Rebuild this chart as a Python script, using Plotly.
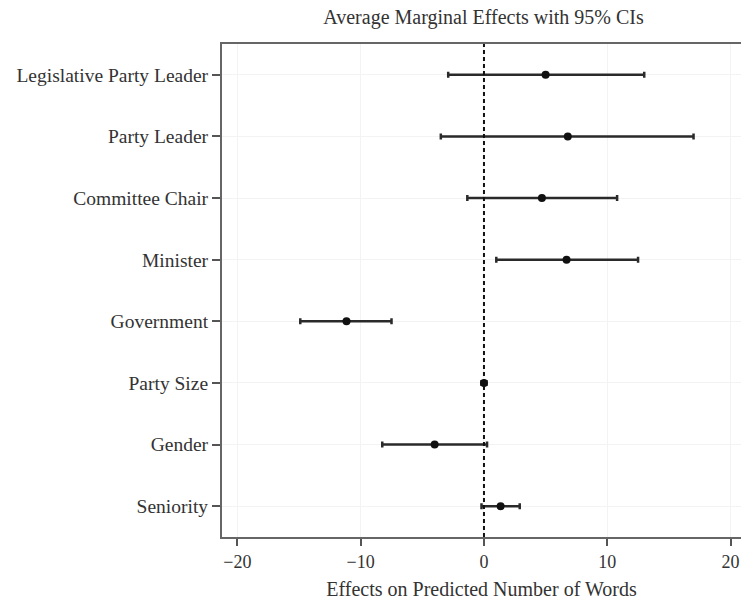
import plotly.graph_objects as go

# Average marginal effects with 95% confidence intervals
variables = ["Legislative Party Leader", "Party Leader", "Committee Chair", "Minister",
             "Government", "Party Size", "Gender", "Seniority"]
effects = [5.0, 6.8, 4.7, 6.7, -11.15, 0.0, -4.0, 1.35]
ci_low = [-2.9, -3.5, -1.35, 1.0, -14.9, -0.2, -8.25, -0.2]
ci_high = [13.0, 17.0, 10.8, 12.5, -7.5, 0.2, 0.25, 2.9]

x_ticks = [-20, -10, 0, 10, 20]

rows = list(range(len(variables)))
err_plus = [h - e for h, e in zip(ci_high, effects)]
err_minus = [e - l for e, l in zip(effects, ci_low)]

FONT = "Liberation Serif"
INK = "#333333"

fig = go.Figure()
fig.add_trace(go.Scatter(
    x=effects,
    y=rows,
    mode="markers",
    marker=dict(color="#111111", size=8),
    error_x=dict(type="data", symmetric=False, array=err_plus, arrayminus=err_minus,
                 color="#2a2a2a", thickness=2.5, width=3),
    showlegend=False,
    hoverinfo="skip",
))

fig.add_shape(type="line", xref="x", yref="paper", x0=0, x1=0, y0=0, y1=1,
              line=dict(color="#111111", width=2, dash="4px,3px"), layer="above")

fig.update_layout(
    width=741, height=601,
    margin=dict(l=222, r=0, t=44, b=64),
    paper_bgcolor="white", plot_bgcolor="white",
    font=dict(family=FONT, size=19, color=INK),
    title=dict(text="Average Marginal Effects with 95% CIs", x=483.5 / 741,
               xanchor="center", y=1 - 17 / 601, yanchor="middle",
               font=dict(family=FONT, size=20, color=INK)),
    xaxis=dict(range=[-21.25, 20.85], tickvals=x_ticks, ticktext=[str(v).replace("-", "\u2212") for v in x_ticks],
               showline=True, linecolor="#666666", linewidth=2, mirror=True,
               ticks="outside", ticklen=7, tickwidth=1.5, tickcolor="#555555",
               showgrid=True, gridcolor="#f3f3f3", gridwidth=1, zeroline=False,
               tickfont=dict(size=18),
               title=dict(text="Effects on Predicted Number of Words", standoff=11,
                          font=dict(size=20))),
    yaxis=dict(range=[7.5, -0.5], tickvals=rows, ticktext=variables,
               showline=True, linecolor="#666666", linewidth=2, mirror=False,
               ticks="outside", ticklen=8, tickwidth=1.5, tickcolor="#555555",
               showgrid=True, gridcolor="#f3f3f3", gridwidth=1, zeroline=False,
               tickfont=dict(size=19.5)),
)

fig.write_html("out.html")
